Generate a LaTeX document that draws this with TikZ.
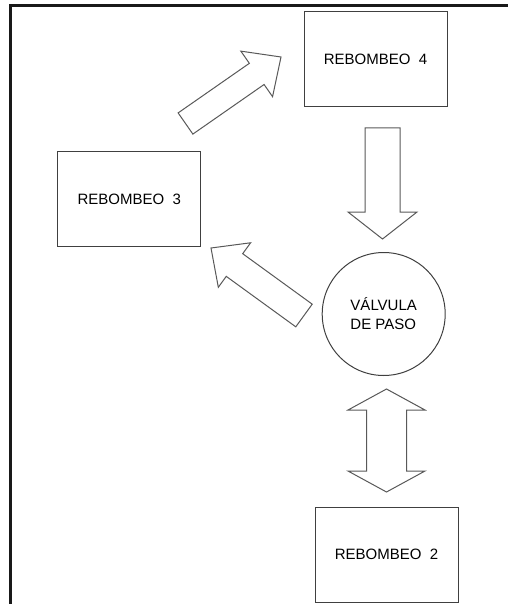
\documentclass[tikz,border=0pt]{standalone}
\usepackage{fontspec}
\setmainfont{Liberation Sans}
\usetikzlibrary{calc}
% block arrow: from, to, half shaft, half head, head length
\newcommand{\BArrow}[5]{%
  \path ($(#2)!#5!(#1)$) coordinate (hb);
  \draw[blockarrow] ($(#1)!#3!90:(#2)$) -- ($(hb)!#3!90:(#2)$) -- ($(hb)!#4!90:(#2)$) -- (#2)
    -- ($(hb)!#4!-90:(#2)$) -- ($(hb)!#3!-90:(#2)$) -- ($(#1)!#3!-90:(#2)$) -- cycle;}
% same, head at both ends
\newcommand{\DArrow}[5]{%
  \path ($(#1)!#5!(#2)$) coordinate (ha) ($(#2)!#5!(#1)$) coordinate (hb);
  \draw[blockarrow] (#1) -- ($(ha)!#4!90:(#2)$) -- ($(ha)!#3!90:(#2)$) -- ($(hb)!#3!90:(#2)$)
    -- ($(hb)!#4!90:(#2)$) -- (#2) -- ($(hb)!#4!-90:(#2)$) -- ($(hb)!#3!-90:(#2)$)
    -- ($(ha)!#3!-90:(#2)$) -- ($(ha)!#4!-90:(#2)$) -- cycle;}
\tikzset{
  box/.style={draw=black!75, line width=1pt, minimum width=143pt, minimum height=95pt,
    font=\fontsize{15}{18}\selectfont},
  blockarrow/.style={draw=black!65, line width=1pt, fill=white, line join=miter}
}

\begin{document}
\begin{tikzpicture}[x=1pt, y=-1pt]
  \useasboundingbox (0,0) rectangle (507,604);
  \draw[line width=2.3pt, black!90] (10.5,5.5) rectangle (520,620);

  \node[box] (r4) at (375.5,59.5) {REBOMBEO\ \ 4};
  \node[box] (r3) at (129.2,199.4) {REBOMBEO\ \ 3};
  \node[box] (r2) at (386.5,554.5) {REBOMBEO\ \ 2};
  \node[draw=black!75, line width=1pt, circle, minimum size=123pt, align=left,
    font=\fontsize{15}{19}\selectfont] (vp) at (383.7,314) {VÁLVULA\\DE PASO};

  \coordinate (a34s) at (185.5,123.5);
  \coordinate (a34e) at (281,57);
  \coordinate (a4vs) at (382.5,128);
  \coordinate (a4ve) at (382.5,239);
  \coordinate (av3s) at (304,315.5);
  \coordinate (av3e) at (211,248);
  \coordinate (av2s) at (386.5,389);
  \coordinate (av2e) at (386.5,492);

  \BArrow{a34s}{a34e}{12.9pt}{27.75pt}{29.6pt}
  \BArrow{a4vs}{a4ve}{17.5pt}{34.5pt}{27pt}
  \BArrow{av3s}{av3e}{14pt}{27.5pt}{29pt}
  \DArrow{av2s}{av2e}{20pt}{38.5pt}{21pt}
\end{tikzpicture}
\end{document}
